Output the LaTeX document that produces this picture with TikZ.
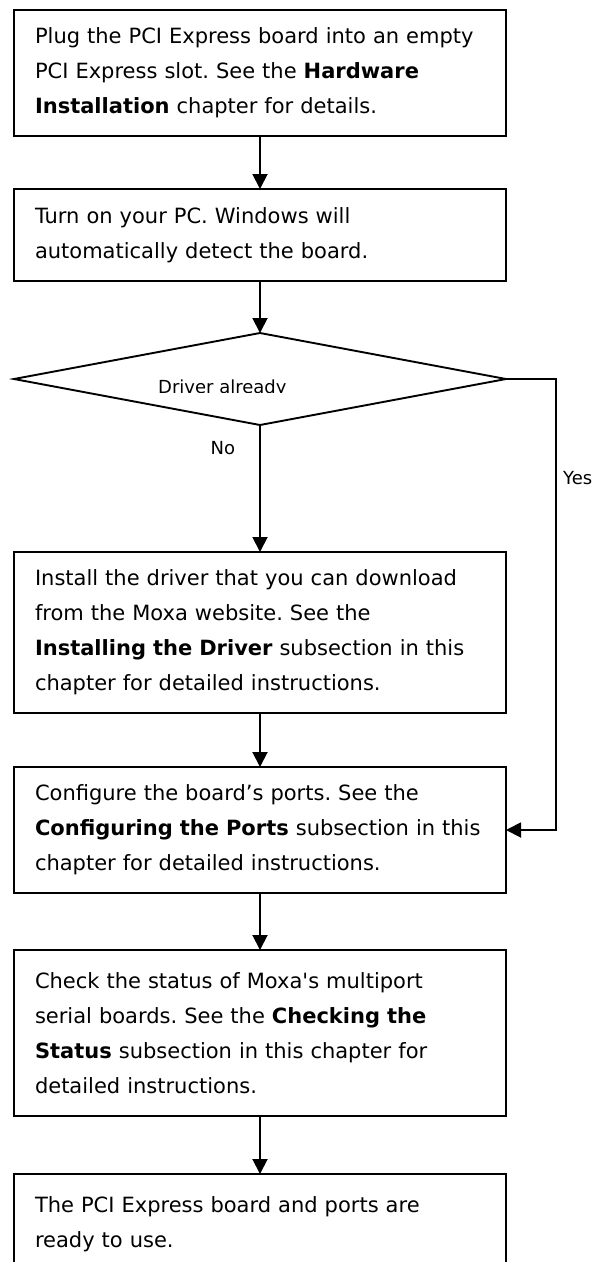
\documentclass[tikz,border=0pt]{standalone}
\usepackage{fontspec}
\setmainfont{DejaVu Sans}
\usetikzlibrary{arrows.meta, positioning, shapes.geometric}
\frenchspacing

\tikzset{
	stepbox/.style={draw, line width=1.9pt, rectangle, anchor=north, outer sep=0pt, text width=450pt, inner xsep=21pt, inner ysep=0pt, align=left, font=\fontsize{21}{35}\selectfont},
	decide/.style={draw, line width=1.9pt, diamond, outer sep=0pt, inner sep=0pt, minimum width=492pt, minimum height=92pt},
	flow/.style={line width=1.9pt, -{Triangle[width=15pt, length=15pt]}},
	lbl/.style={inner sep=0pt, font=\fontsize{18}{20}\selectfont}
}

\begin{document}
\begin{tikzpicture}[x=1pt, y=-1pt]
	\useasboundingbox (0,0) rectangle (603,1262);
	% steps
	\node[stepbox, minimum height=126pt] (plug) at (260,10) {Plug the PCI Express board into an empty\\PCI Express slot. See the \textbf{Hardware}\\\textbf{Installation} chapter for details.};
	\node[stepbox, minimum height=92pt, below=53pt of plug] (power) {Turn on your PC. Windows will\\automatically detect the board.};
	\node[decide, below=52pt of power] (check) {};
	\node[stepbox, minimum height=161pt, below=127pt of check] (install) {Install the driver that you can download\\from the Moxa website. See the\\\textbf{Installing the Driver} subsection in this\\chapter for detailed instructions.};
	\node[stepbox, minimum height=126pt, below=54pt of install] (config) {Configure the board’s ports. See the\\\textbf{Configuring the Ports} subsection in this\\chapter for detailed instructions.};
	\node[stepbox, minimum height=166pt, below=57pt of config] (status) {Check the status of Moxa\textquotesingle s multiport\\serial boards. See the \textbf{Checking the}\\\textbf{Status} subsection in this chapter for\\detailed instructions.};
	% bottom edge runs off the page
	\node[stepbox, minimum height=100pt, below=58pt of status] (ready) {The PCI Express board and ports are\\ready to use.};

	% question text, cut off at its baseline
	\begin{scope}
		\clip (100,360) rectangle (420,392.5);
		\node[lbl, anchor=base west] (question) at (158,393) {Driver already};
	\end{scope}

	% connectors
	\draw[flow] (plug) -- (power);
	\draw[flow] (power) -- (check);
	\draw[flow] (check) -- (install) node[lbl, pos=0.18, left=24pt] (no) {No};
	\draw[flow] (install) -- (config);
	\draw[flow] (config) -- (status);
	\draw[flow] (status) -- (ready);
	\draw[flow] (check.east) -- ++(50,0) |- (config.east);
	\node[lbl, anchor=west] (yes) at (563,478) {Yes};
\end{tikzpicture}
\end{document}
